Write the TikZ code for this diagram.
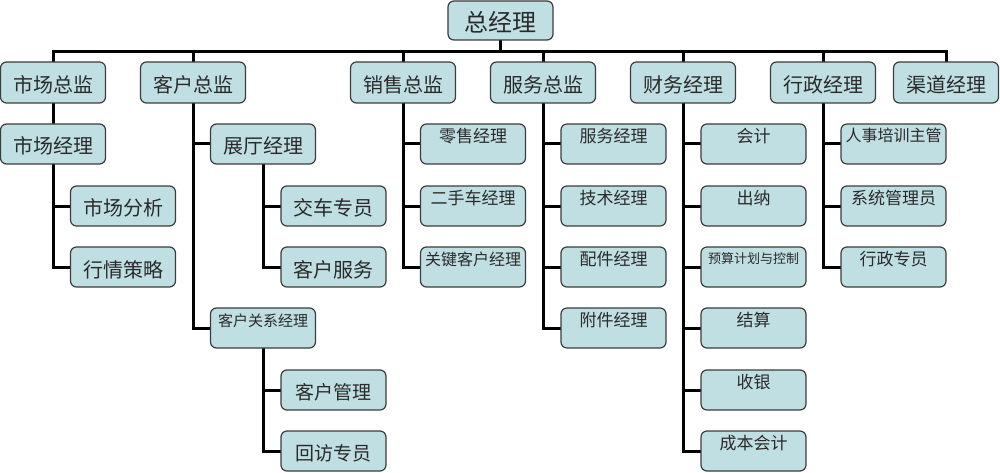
\documentclass[tikz,border=0pt]{standalone}
\usepackage{fontspec}
\newfontfamily\cjk{Noto Sans CJK SC}
\usetikzlibrary{backgrounds}
\definecolor{boxfill}{HTML}{C0DFE2}
\definecolor{boxline}{HTML}{3C3C3C}
\definecolor{txt}{HTML}{2A2A2A}
\begin{document}
\begin{tikzpicture}[x=1pt,y=-1pt,
  box/.style={draw=boxline, fill=boxfill, line width=1.2pt, rounded corners=6pt,
    minimum width=105pt, minimum height=40pt, inner sep=0pt, text=txt},
  fs/.style={font=\cjk\fontsize{#1pt}{#1pt}\selectfont,
    /utils/exec={\pgfmathsetlengthmacro\myth{0.8*#1pt}\pgfmathsetlengthmacro\mytd{0.2*#1pt}},
    text height=\myth, text depth=\mytd},
  up/.style={/utils/exec={\pgfmathsetlengthmacro\mytd{\mytd+2*#1pt}}, text depth=\mytd},
  dn/.style={/utils/exec={\pgfmathsetlengthmacro\myth{\myth+2*#1pt}}, text height=\myth},
  head/.style={box, fs=20, minimum height=41pt, dn=4},
  conn/.style={draw=black, line width=3pt, line cap=rect}]
\useasboundingbox (0,0) rectangle (1000,473);
% top
\node[box, fs=24, minimum height=39pt, dn=4] (gm) at (500.5,20.5) {总经理};
% level 1
\node[head] (m1) at (53,82.5) {市场总监};
\node[head] (m2) at (193,82.5) {客户总监};
\node[head] (m3) at (403,82.5) {销售总监};
\node[head] (m4) at (543,82.5) {服务总监};
\node[head] (m5) at (683,82.5) {财务经理};
\node[head] (m6) at (823,82.5) {行政经理};
\node[head] (m7) at (946,82.5) {渠道经理};
% market
\node[box, fs=20, dn=4] (a1) at (53,144) {市场经理};
\node[box, fs=20, dn=3] (a2) at (123,206) {市场分析};
\node[box, fs=20, dn=4] (a3) at (123,267) {行情策略};
% customer
\node[box, fs=20, dn=4] (b1) at (263,144) {展厅经理};
\node[box, fs=20, dn=3] (b2) at (333.5,206) {交车专员};
\node[box, fs=20, dn=4] (b3) at (333.5,267) {客户服务};
\node[box, fs=15, up=6] (b4) at (263,328) {客户关系经理};
\node[box, fs=19, dn=4] (b5) at (333.5,390) {客户管理};
\node[box, fs=19, dn=4] (b6) at (333.5,451) {回访专员};
% sales
\node[box, fs=17, up=7] (c1) at (473,144) {零售经理};
\node[box, fs=17, up=7] (c2) at (473,206) {二手车经理};
\node[box, fs=16, up=6] (c3) at (473,267) {关键客户经理};
% service
\node[box, fs=17, up=7] (d1) at (613.5,144) {服务经理};
\node[box, fs=17, up=7] (d2) at (613.5,206) {技术经理};
\node[box, fs=17, up=7] (d3) at (613.5,267) {配件经理};
\node[box, fs=17, up=7] (d4) at (613.5,328) {附件经理};
% finance
\node[box, fs=17, up=7] (e1) at (753.5,144) {会计};
\node[box, fs=17, up=7] (e2) at (753.5,206) {出纳};
\node[box, fs=13, up=7] (e3) at (753.5,267) {预算计划与控制};
\node[box, fs=17, up=7] (e4) at (753.5,328) {结算};
\node[box, fs=17, up=7] (e5) at (753.5,390) {收银};
\node[box, fs=17, up=7] (e6) at (753.5,451) {成本会计};
% admin
\node[box, fs=16, up=7] (f1) at (893.5,144) {人事培训主管};
\node[box, fs=17, up=7] (f2) at (893.5,206) {系统管理员};
\node[box, fs=17, up=7] (f3) at (893.5,267) {行政专员};
\coordinate (bus) at (0,52);
\begin{scope}[on background layer]
  \draw[conn] (gm.center) -- (gm.center |- bus);
  \draw[conn] (m1.center |- bus) -- (m7.center |- bus);
  \foreach \m in {m1,m2,m3,m4,m5,m6,m7}
    \draw[conn] (\m.center |- bus) -- (\m.north);
  \draw[conn] (m1.south) -- (a1.north);
  \foreach \c in {a2,a3} \draw[conn] (a1.south) |- (\c.west);
  \foreach \c in {b1,b4} \draw[conn] (m2.south) |- (\c.west);
  \foreach \c in {b2,b3} \draw[conn] (b1.south) |- (\c.west);
  \foreach \c in {b5,b6} \draw[conn] (b4.south) |- (\c.west);
  \foreach \c in {c1,c2,c3} \draw[conn] (m3.south) |- (\c.west);
  \foreach \c in {d1,d2,d3,d4} \draw[conn] (m4.south) |- (\c.west);
  \foreach \c in {e1,e2,e3,e4,e5,e6} \draw[conn] (m5.south) |- (\c.west);
  \foreach \c in {f1,f2,f3} \draw[conn] (m6.south) |- (\c.west);
\end{scope}
\end{tikzpicture}
\end{document}
